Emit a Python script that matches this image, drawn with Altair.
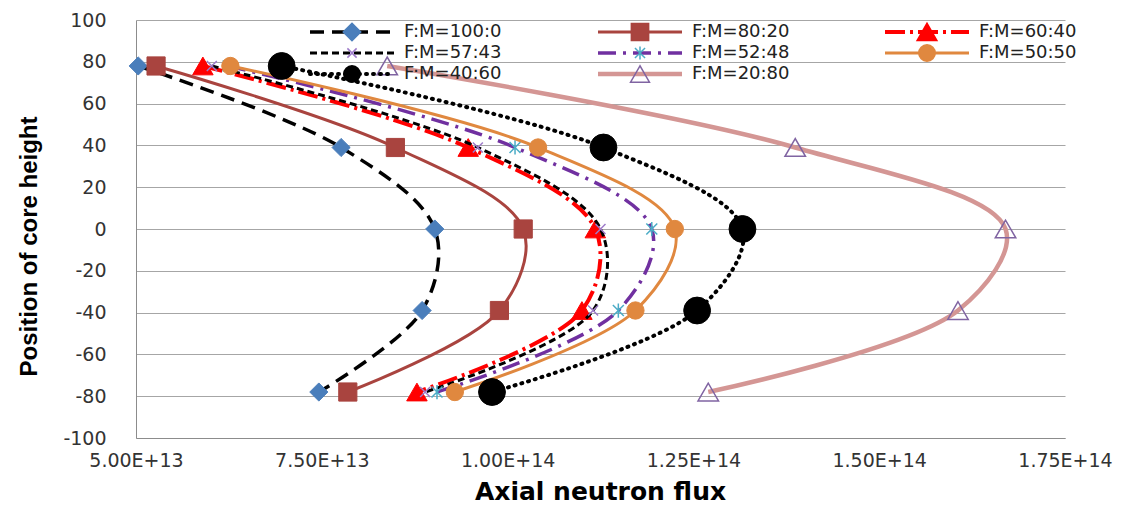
import altair as alt
import pandas as pd

# ---------------- data ----------------
heights = [78, 39, 0, -39, -78]
series_names = ["F:M=100:0", "F:M=80:20", "F:M=60:40", "F:M=57:43",
                "F:M=52:48", "F:M=50:50", "F:M=40:60", "F:M=20:80"]
flux_100_0 = [5.03e13, 7.76e13, 9.02e13, 8.85e13, 7.46e13]
flux_80_20 = [5.27e13, 8.49e13, 1.021e14, 9.89e13, 7.85e13]
flux_60_40 = [5.90e13, 9.47e13, 1.118e14, 1.100e14, 8.78e13]
flux_57_43 = [6.02e13, 9.60e13, 1.125e14, 1.115e14, 8.89e13]
flux_52_48 = [6.24e13, 1.010e14, 1.194e14, 1.149e14, 9.05e13]
flux_50_50 = [6.27e13, 1.041e14, 1.225e14, 1.172e14, 9.29e13]
flux_40_60 = [6.96e13, 1.129e14, 1.316e14, 1.255e14, 9.79e13]
flux_20_80 = [8.38e13, 1.387e14, 1.670e14, 1.606e14, 1.270e14]
x_ticks = [5.0e13, 7.5e13, 1.0e14, 1.25e14, 1.5e14, 1.75e14]
y_ticks = [-100, -80, -60, -40, -20, 0, 20, 40, 60, 80, 100]

all_flux = [flux_100_0, flux_80_20, flux_60_40, flux_57_43,
            flux_52_48, flux_50_50, flux_40_60, flux_20_80]

rows = []
for name, fl in zip(series_names, all_flux):
    for i, (h, f) in enumerate(zip(heights, fl)):
        rows.append({"series": name, "height": h, "flux": f, "idx": i})
df = pd.DataFrame(rows)

# ---------------- styles ----------------
XPATH = "M-1,-1L1,1M-1,1L1,-1"
ASTER = "M-1,-1L1,1M-1,1L1,-1M0,-1.3L0,1.3"
styles = [
    dict(line="#000000", dash=[14, 8], width=3.5, cap="butt",
         shape="diamond", filled=True, color="#4A7EBB", size=330, sw=1),
    dict(line="#A9443F", dash=None, width=3, cap="butt",
         shape="square", filled=True, color="#A9443F", size=330, sw=1),
    dict(line="#FF0000", dash=[20, 5, 3, 5], width=4, cap="butt",
         shape="triangle-up", filled=True, color="#FF0000", size=420, sw=1),
    dict(line="#000000", dash=[7, 4], width=3, cap="butt",
         shape=XPATH, filled=False, color="#9E7BC9", size=100, sw=1.5),
    dict(line="#7030A0", dash=[18, 7, 3, 7], width=3.5, cap="butt",
         shape=ASTER, filled=False, color="#4BACC6", size=120, sw=1.5),
    dict(line="#E0883F", dash=None, width=3, cap="butt",
         shape="circle", filled=True, color="#E0883F", size=300, sw=1),
    dict(line="#000000", dash=[1, 6], width=4, cap="round",
         shape="circle", filled=True, color="#000000", size=720, sw=1),
    dict(line="#D49694", dash=None, width=4.5, cap="butt",
         shape="triangle-up", filled=False, color="#8064A2", size=420, sw=1.5),
]

x_scale = alt.Scale(domain=[5.0e13, 1.75e14], nice=False, zero=False)
y_scale = alt.Scale(domain=[-100, 100], nice=False, zero=False)

x_enc = alt.X("flux:Q", scale=x_scale, axis=alt.Axis(
    values=x_ticks,
    labelExpr="replace(format(datum.value, '.2e'), 'e', 'E')",
    labelFlush=False,
    title="Axial neutron flux", grid=False, ticks=False,
    domainColor="#8C8C8C", labelFont="DejaVu Sans", labelFontSize=19,
    labelColor="#333333", labelPadding=13,
    titleFont="DejaVu Sans", titleFontSize=25, titleFontWeight="bold",
    titleColor="#000000", titleX=464, titleY=53, titleBaseline="middle",
    titleAlign="center"))
y_enc = alt.Y("height:Q", scale=y_scale, axis=alt.Axis(
    values=y_ticks, labelExpr="'' + datum.value",
    title="Position of core height", grid=True,
    gridColor="#A6A6A6", gridWidth=1.2, ticks=False, domainColor="#8C8C8C",
    labelFont="DejaVu Sans", labelFontSize=19, labelColor="#333333",
    labelPadding=30,
    titleFont="Liberation Sans", titleFontSize=24,
    titleFontWeight="bold", titleColor="#000000",
    titleX=-107, titleY=226, titleAngle=-90, titleBaseline="middle",
    titleAlign="center"))

layers = []
for name, st in zip(series_names, styles):
    base = alt.Chart(df).transform_filter(alt.datum.series == name)
    line_kw = dict(color=st["line"], strokeWidth=st["width"],
                   interpolate="catmull-rom", strokeCap=st["cap"])
    if st["dash"]:
        line_kw["strokeDash"] = st["dash"]
    line = base.mark_line(**line_kw).encode(
        x=x_enc, y=y_enc, order=alt.Order("idx:Q"))
    if st["filled"]:
        pt = base.mark_point(shape=st["shape"], filled=True, fill=st["color"],
                             stroke=st["color"], strokeWidth=st["sw"],
                             size=st["size"], opacity=1)
    else:
        pt = base.mark_point(shape=st["shape"], filled=False,
                             stroke=st["color"], strokeWidth=st["sw"],
                             size=st["size"], opacity=1)
    pt = pt.encode(x=x_enc, y=y_enc)
    layers += [line, pt]

# ---------------- legend (3 columns) ----------------
col_x = [174, 462, 749]
row_y = [12, 33, 54]
for i, (name, st) in enumerate(zip(series_names, styles)):
    c, r = i % 3, i // 3
    x0 = col_x[c]
    y0 = row_y[r]
    ldf = pd.DataFrame({"name": [name]})
    lb = alt.Chart(ldf)
    rule_kw = dict(color=st["line"], strokeWidth=st["width"],
                   strokeCap=st["cap"])
    if st["dash"]:
        rule_kw["strokeDash"] = st["dash"]
    layers.append(lb.mark_rule(**rule_kw).encode(
        x=alt.value(x0), x2=alt.value(x0 + 84), y=alt.value(y0)))
    msize = st["size"] * (0.35 if st["size"] > 600 else 0.85)
    if st["filled"]:
        m = lb.mark_point(shape=st["shape"], filled=True, fill=st["color"],
                          stroke=st["color"], size=msize, opacity=1)
    else:
        m = lb.mark_point(shape=st["shape"], filled=False, stroke=st["color"],
                          strokeWidth=st["sw"], size=msize, opacity=1)
    layers.append(m.encode(x=alt.value(x0 + 42), y=alt.value(y0)))
    layers.append(lb.mark_text(align="left", baseline="middle",
                               font="DejaVu Sans", fontSize=18,
                               color="#222222").encode(
        x=alt.value(x0 + 94), y=alt.value(y0), text="name:N"))

chart = alt.layer(*layers).properties(
    width=929, height=418,
    autosize=alt.AutoSizeParams(type="none"),
    padding={"left": 136, "top": 20, "right": 70, "bottom": 67},
    background="white",
).configure_view(stroke=None)

chart.save("out.html", embed_options={"renderer": "svg", "actions": False})
